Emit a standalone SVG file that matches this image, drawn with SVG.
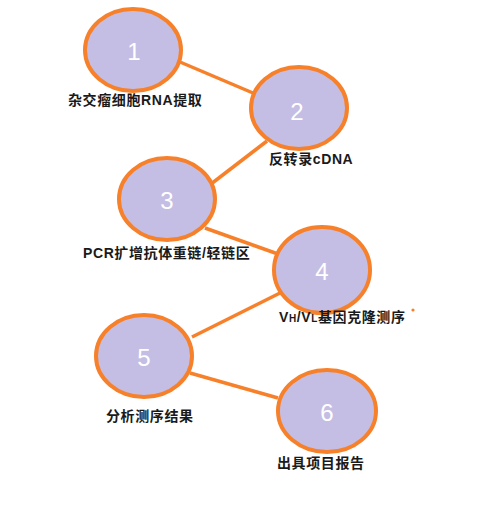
<svg xmlns="http://www.w3.org/2000/svg" width="491" height="505" viewBox="0 0 491 505">
<style>
.n ellipse{fill:#C5BEE4;stroke:#F7812B;stroke-width:4}
.num{font-family:"Liberation Sans",Arial,sans-serif;font-size:24px;fill:#fff;text-anchor:middle}
.lbl{font-family:"Liberation Sans","Noto Sans CJK SC",sans-serif;font-size:14px;font-weight:bold;fill:#1a1a1a;letter-spacing:0.6px}
.c line{stroke:#F7812B;stroke-width:3.5}
</style>
<rect width="491" height="505" fill="#fff"/>
<g class="c" id="connectors">
<line x1="180" y1="62" x2="253" y2="93"/>
<line x1="267" y1="141" x2="211" y2="184"/>
<line x1="205" y1="228" x2="278" y2="254"/>
<line x1="282" y1="292" x2="192" y2="337"/>
<line x1="190" y1="373" x2="278" y2="398"/>
</g>
<g class="n" id="node1"><ellipse cx="133" cy="50" rx="48" ry="41"/><text class="num" x="134" y="60">1</text><text class="lbl" x="68" y="105">杂交瘤细胞RNA提取</text></g>
<g class="n" id="node2"><ellipse cx="299" cy="108" rx="48" ry="41"/><text class="num" x="297" y="120">2</text><text class="lbl" x="269" y="164">反转录cDNA</text></g>
<g class="n" id="node3"><ellipse cx="167" cy="199" rx="48" ry="41"/><text class="num" x="167" y="209">3</text><text class="lbl" x="83" y="258">PCR扩增抗体重链/轻链区</text></g>
<g class="n" id="node4"><ellipse cx="322" cy="270" rx="48" ry="43"/><text class="num" x="322" y="280">4</text><text class="lbl" x="279" y="322">V<tspan font-size="10">H</tspan>/V<tspan font-size="10">L</tspan>基因克隆测序</text></g>
<circle cx="413" cy="310" r="1.6" fill="#F7812B"/>
<g class="n" id="node5"><ellipse cx="144" cy="356" rx="48" ry="41"/><text class="num" x="144" y="366">5</text><text class="lbl" x="106" y="421">分析测序结果</text></g>
<g class="n" id="node6"><ellipse cx="327" cy="411" rx="49" ry="41"/><text class="num" x="327" y="421">6</text><text class="lbl" x="277" y="468">出具项目报告</text></g>
</svg>
